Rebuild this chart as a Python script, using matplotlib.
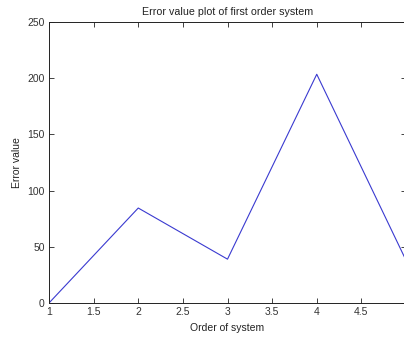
import matplotlib
matplotlib.use('Agg')
import matplotlib.pyplot as plt

order = [1, 2, 3, 4, 5]
error_value = [0, 84.5, 39, 203.5, 38]
xticks = [1, 1.5, 2, 2.5, 3, 3.5, 4, 4.5]
yticks = [0, 50, 100, 150, 200, 250]

plt.rcParams['font.family'] = ['Liberation Sans', 'DejaVu Sans']
plt.rcParams['font.size'] = 7.5

fig = plt.figure(figsize=(4.04, 3.4), dpi=100)
# right edge of the axes sits just outside the picture, like the cropped original
ax = fig.add_axes([49 / 404, 37 / 340, 357 / 404, 281 / 340])
ax.plot(order, error_value, color='#3a3ad0', linewidth=0.8)

ax.set_xlim(1, 5)
ax.set_ylim(0, 250)
ax.set_xticks(xticks)
ax.set_xticklabels([f'{t:g}' for t in xticks])
ax.set_yticks(yticks)
ax.tick_params(direction='in', length=3.5, width=0.6, top=True, right=True,
               colors='#222222', labelcolor='#333333', pad=3)
for s in ax.spines.values():
    s.set_linewidth(0.7)
    s.set_color('#222222')

ax.set_title('Error value plot of first order system', color='#222222',
             fontsize=7.7, pad=5)
ax.set_xlabel('Order of system', color='#222222', labelpad=4)
ax.set_ylabel('Error value', color='#222222', labelpad=4)

fig.savefig('out.png', dpi=100)
